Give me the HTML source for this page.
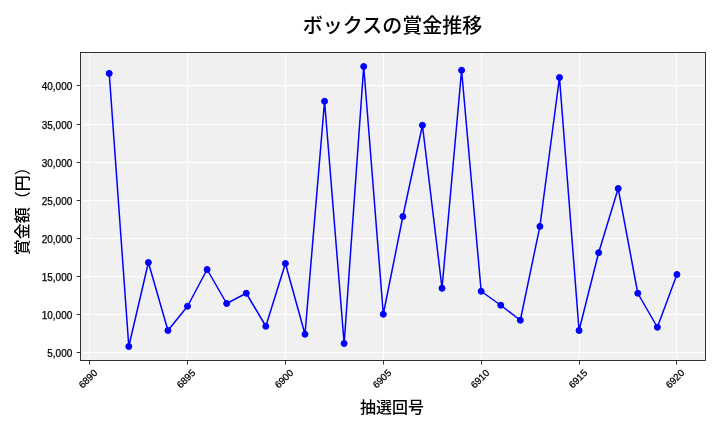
<!DOCTYPE html>
<html lang="ja">
<head>
<meta charset="utf-8">
<title>ボックスの賞金推移</title>
<style>
html,body{margin:0;padding:0;background:#fff;}
body{width:720px;height:432px;overflow:hidden;}
svg{display:block;}
svg text{font-family:"Liberation Sans", "Noto Sans CJK JP", sans-serif;fill:#000;}
</style>
</head>
<body>
<svg width="720" height="432" viewBox="0 0 720 432">
<rect x="0" y="0" width="720" height="432" fill="#ffffff"/>
<rect x="80.5" y="52.5" width="625.0" height="308.0" fill="#f0f0f0"/>
<g stroke="#ffffff" stroke-width="0.9" fill="none">
<line x1="89.5" y1="52.5" x2="89.5" y2="360.5"/>
<line x1="187.5" y1="52.5" x2="187.5" y2="360.5"/>
<line x1="285.5" y1="52.5" x2="285.5" y2="360.5"/>
<line x1="383.5" y1="52.5" x2="383.5" y2="360.5"/>
<line x1="481.5" y1="52.5" x2="481.5" y2="360.5"/>
<line x1="579.5" y1="52.5" x2="579.5" y2="360.5"/>
<line x1="676.5" y1="52.5" x2="676.5" y2="360.5"/>
<line x1="80.5" y1="352.5" x2="705.5" y2="352.5"/>
<line x1="80.5" y1="314.5" x2="705.5" y2="314.5"/>
<line x1="80.5" y1="276.5" x2="705.5" y2="276.5"/>
<line x1="80.5" y1="238.5" x2="705.5" y2="238.5"/>
<line x1="80.5" y1="200.5" x2="705.5" y2="200.5"/>
<line x1="80.5" y1="162.5" x2="705.5" y2="162.5"/>
<line x1="80.5" y1="124.5" x2="705.5" y2="124.5"/>
<line x1="80.5" y1="85.5" x2="705.5" y2="85.5"/>
</g>
<path d="M109.23 73.4 L128.80 346.5 L148.38 262.5 L167.95 330.5 L187.53 306.25 L207.11 269.5 L226.68 303.5 L246.26 293.25 L265.83 326.25 L285.41 263.5 L304.99 334.25 L324.56 101.25 L344.14 343.5 L363.71 66.5 L383.29 314.25 L402.87 216.5 L422.44 125.25 L442.02 288.25 L461.59 70.25 L481.17 291.25 L500.75 305.25 L520.32 320.25 L539.90 226.4 L559.47 77.5 L579.05 330.5 L598.63 252.7 L618.20 188.5 L637.78 293.25 L657.35 327.25 L676.93 274.5" fill="none" stroke="#0000ff" stroke-width="1.5" stroke-linejoin="round" stroke-linecap="butt"/>
<g fill="#0000ff" stroke="#0000ff" stroke-width="1">
<circle cx="109.23" cy="73.4" r="3"/>
<circle cx="128.80" cy="346.5" r="3"/>
<circle cx="148.38" cy="262.5" r="3"/>
<circle cx="167.95" cy="330.5" r="3"/>
<circle cx="187.53" cy="306.25" r="3"/>
<circle cx="207.11" cy="269.5" r="3"/>
<circle cx="226.68" cy="303.5" r="3"/>
<circle cx="246.26" cy="293.25" r="3"/>
<circle cx="265.83" cy="326.25" r="3"/>
<circle cx="285.41" cy="263.5" r="3"/>
<circle cx="304.99" cy="334.25" r="3"/>
<circle cx="324.56" cy="101.25" r="3"/>
<circle cx="344.14" cy="343.5" r="3"/>
<circle cx="363.71" cy="66.5" r="3"/>
<circle cx="383.29" cy="314.25" r="3"/>
<circle cx="402.87" cy="216.5" r="3"/>
<circle cx="422.44" cy="125.25" r="3"/>
<circle cx="442.02" cy="288.25" r="3"/>
<circle cx="461.59" cy="70.25" r="3"/>
<circle cx="481.17" cy="291.25" r="3"/>
<circle cx="500.75" cy="305.25" r="3"/>
<circle cx="520.32" cy="320.25" r="3"/>
<circle cx="539.90" cy="226.4" r="3"/>
<circle cx="559.47" cy="77.5" r="3"/>
<circle cx="579.05" cy="330.5" r="3"/>
<circle cx="598.63" cy="252.7" r="3"/>
<circle cx="618.20" cy="188.5" r="3"/>
<circle cx="637.78" cy="293.25" r="3"/>
<circle cx="657.35" cy="327.25" r="3"/>
<circle cx="676.93" cy="274.5" r="3"/>
</g>
<rect x="80.5" y="52.5" width="625.0" height="308.0" fill="none" stroke="#000000" stroke-width="0.8"/>
<g stroke="#000000" stroke-width="0.8">
<line x1="89.5" y1="360.5" x2="89.5" y2="364.6"/>
<line x1="187.5" y1="360.5" x2="187.5" y2="364.6"/>
<line x1="285.5" y1="360.5" x2="285.5" y2="364.6"/>
<line x1="383.5" y1="360.5" x2="383.5" y2="364.6"/>
<line x1="481.5" y1="360.5" x2="481.5" y2="364.6"/>
<line x1="579.5" y1="360.5" x2="579.5" y2="364.6"/>
<line x1="676.5" y1="360.5" x2="676.5" y2="364.6"/>
<line x1="80.5" y1="352.5" x2="76.7" y2="352.5"/>
<line x1="80.5" y1="314.5" x2="76.7" y2="314.5"/>
<line x1="80.5" y1="276.5" x2="76.7" y2="276.5"/>
<line x1="80.5" y1="238.5" x2="76.7" y2="238.5"/>
<line x1="80.5" y1="200.5" x2="76.7" y2="200.5"/>
<line x1="80.5" y1="162.5" x2="76.7" y2="162.5"/>
<line x1="80.5" y1="124.5" x2="76.7" y2="124.5"/>
<line x1="80.5" y1="85.5" x2="76.7" y2="85.5"/>
</g>
<g font-size="10" text-anchor="end" stroke="#000" stroke-width="0.25">
<text x="72.3" y="357.4">5,000</text>
<text x="72.3" y="319.4">10,000</text>
<text x="72.3" y="281.4">15,000</text>
<text x="72.3" y="243.4">20,000</text>
<text x="72.3" y="205.4">25,000</text>
<text x="72.3" y="167.4">30,000</text>
<text x="72.3" y="129.4">35,000</text>
<text x="72.3" y="90.4">40,000</text>
</g>
<g font-size="9.7" text-anchor="middle" stroke="#000" stroke-width="0.25">
<text transform="translate(87.9,378.7) rotate(-45)" y="3.5">6890</text>
<text transform="translate(185.9,378.7) rotate(-45)" y="3.5">6895</text>
<text transform="translate(283.9,378.7) rotate(-45)" y="3.5">6900</text>
<text transform="translate(381.9,378.7) rotate(-45)" y="3.5">6905</text>
<text transform="translate(479.9,378.7) rotate(-45)" y="3.5">6910</text>
<text transform="translate(577.9,378.7) rotate(-45)" y="3.5">6915</text>
<text transform="translate(674.9,378.7) rotate(-45)" y="3.5">6920</text>
</g>
<text x="392.5" y="33" font-size="20" font-weight="500" text-anchor="middle">ボックスの賞金推移</text>
<text x="392" y="412.8" font-size="16" font-weight="500" text-anchor="middle">抽選回号</text>
<text transform="translate(27.5,207.2) rotate(-90)" font-size="16" font-weight="500" text-anchor="middle">賞金額（円）</text>
</svg>
</body>
</html>
